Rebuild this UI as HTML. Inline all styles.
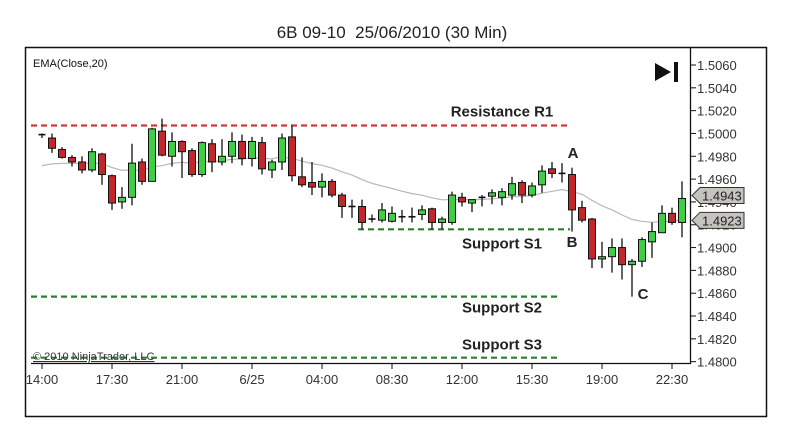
<!DOCTYPE html>
<html><head><meta charset="utf-8">
<style>
body{margin:0;background:#fff;}
svg{display:block;font-family:"Liberation Sans",Arial,sans-serif;}
</style></head>
<body>
<svg id="chart" width="790" height="428" viewBox="0 0 790 428">
<text x="392" y="38" font-size="17" text-anchor="middle" fill="#222">6B 09-10&#160; 25/06/2010 (30 Min)</text>
<rect x="25.5" y="47.5" width="741" height="369" fill="none" stroke="#111" stroke-width="1.5"/>
<text x="33" y="67" font-size="11" fill="#111">EMA(Close,20)</text>
<g><polygon points="655,63 655,81 671,72" fill="#111"/><rect x="674" y="62" width="4" height="20" fill="#111"/></g>
<g id="grid"></g>
<g id="levels"></g>
<path id="ema" fill="none" stroke="#b8b8b8" stroke-width="1.2"/>
<g id="candles"></g>
<g id="axes"></g>
<text x="33" y="360" font-size="11" fill="#333" text-decoration="underline">© 2010 NinjaTrader, LLC</text>
<text x="573" y="158" font-size="15" font-weight="bold" fill="#222" text-anchor="middle">A</text>
<text x="572" y="247" font-size="15" font-weight="bold" fill="#222" text-anchor="middle">B</text>
<text x="643" y="299" font-size="15" font-weight="bold" fill="#222" text-anchor="middle">C</text>
</svg>
<script>
const opens =  [1.4999,1.4996,1.4986,1.4979,1.4975,1.4968,1.4982,1.4963,1.4940,1.4944,1.4975,1.4958,1.5002,1.4980,1.4993,1.4985,1.4964,1.4991,1.4975,1.4980,1.4993,1.4978,1.4992,1.4968,1.4975,1.4997,1.4962,1.4957,1.4953,1.4958,1.4946,1.4936,1.4936,1.4925,1.4924,1.4923,1.4927,1.4927,1.4929,1.4934,1.4922,1.4922,1.4944,1.4939,1.4944,1.4945,1.4944,1.4946,1.4957,1.4946,1.4955,1.4969,1.4965,1.4964,1.4935,1.4925,1.4890,1.4892,1.4900,1.4885,1.4888,1.4905,1.4913,1.4930,1.4922];
const highs =  [1.5000,1.5000,1.4988,1.4981,1.4980,1.4987,1.4983,1.4964,1.4953,1.4991,1.4978,1.5005,1.5013,1.5001,1.4994,1.4987,1.4993,1.4995,1.4995,1.5001,1.4999,1.4997,1.4997,1.4977,1.5000,1.5007,1.4979,1.4975,1.4965,1.4960,1.4948,1.4942,1.4942,1.4929,1.4939,1.4936,1.4933,1.4935,1.4937,1.4935,1.4927,1.4949,1.4948,1.4942,1.4946,1.4951,1.4952,1.4962,1.4959,1.4957,1.4972,1.4975,1.4974,1.4970,1.4941,1.4926,1.4905,1.4908,1.4908,1.4890,1.4909,1.4922,1.4937,1.4935,1.4958];
const lows =   [1.4996,1.4983,1.4978,1.4971,1.4965,1.4966,1.4955,1.4933,1.4934,1.4937,1.4955,1.4958,1.4980,1.4971,1.4961,1.4962,1.4962,1.4966,1.4972,1.4974,1.4972,1.4971,1.4964,1.4961,1.4968,1.4958,1.4953,1.4946,1.4944,1.4944,1.4926,1.4926,1.4916,1.4922,1.4922,1.4922,1.4922,1.4922,1.4924,1.4916,1.4916,1.4920,1.4936,1.4931,1.4936,1.4938,1.4937,1.4942,1.4939,1.4944,1.4948,1.4961,1.4957,1.4914,1.4922,1.4882,1.4882,1.4878,1.4872,1.4857,1.4883,1.4891,1.4913,1.4920,1.4909];
const closes = [1.4999,1.4987,1.4979,1.4975,1.4968,1.4984,1.4964,1.4939,1.4944,1.4974,1.4958,1.5004,1.4981,1.4993,1.4984,1.4964,1.4992,1.4975,1.4980,1.4993,1.4978,1.4993,1.4969,1.4975,1.4996,1.4963,1.4955,1.4953,1.4958,1.4946,1.4936,1.4936,1.4922,1.4925,1.4933,1.4930,1.4927,1.4927,1.4933,1.4922,1.4925,1.4946,1.4940,1.4942,1.4944,1.4948,1.4949,1.4956,1.4946,1.4954,1.4967,1.4965,1.4965,1.4933,1.4924,1.4890,1.4892,1.4900,1.4885,1.4888,1.4907,1.4914,1.4930,1.4922,1.4943];
const emaSeed = 1.4969;
const yTicks = [1.5060,1.5040,1.5020,1.5000,1.4980,1.4960,1.4940,1.4920,1.4900,1.4880,1.4860,1.4840,1.4820,1.4800];
const xTickLabels = ["14:00","17:30","21:00","6/25","04:00","08:30","12:00","15:30","19:00","22:30"];
const xTickIndex = [0,7,14,21,28,35,42,49,56,63];
const levelNames = ["Resistance R1","Support S1","Support S2","Support S3"];
const levelPrices = [1.5007,1.4916,1.4857,1.48035];
const levelStart = [0,32,0,0];
const levelEnd = [53,53,52,52];
const lastValues = [1.4943,1.4923];

const NS="http://www.w3.org/2000/svg";
function X(i){return 42+i*10;}
function Y(p){return 65+(1.5060-p)/0.0020*22.82;}
function mk(tag,attrs,parent){const e=document.createElementNS(NS,tag);for(const k in attrs)e.setAttribute(k,attrs[k]);parent.appendChild(e);return e;}
const candles=document.getElementById('candles');
const axes=document.getElementById('axes');
const levels=document.getElementById('levels');

for(let i=0;i<closes.length;i++){
  const g=mk('g',{},candles);
  
  
  const x=X(i);
  mk('line',{x1:x,x2:x,y1:Y(highs[i]),y2:Y(lows[i]),stroke:'#111','stroke-width':1.3},g);
  const o=opens[i],c=closes[i];
  if(Math.abs(o-c)<0.00005){
    mk('line',{x1:x-3.5,x2:x+3.5,y1:Y(c),y2:Y(c),stroke:'#111','stroke-width':1.6},g);
  } else {
    const up=c>o;const top=Y(Math.max(o,c)),bot=Y(Math.min(o,c));
    mk('rect',{x:x-3.5,y:top,width:7,height:Math.max(bot-top,2),fill:up?'#3fcf44':'#c3262b',stroke:'#111','stroke-width':1},g);
  }
}
let ema=emaSeed,d='';const k=2/21;
for(let i=0;i<closes.length;i++){ema=closes[i]*k+ema*(1-k);d+=(i?'L':'M')+X(i)+','+Y(ema).toFixed(1);}
document.getElementById('ema').setAttribute('d',d);

for(let j=0;j<levelNames.length;j++){
  const y=Y(levelPrices[j]);
  const ln=mk('line',{x1:j==1?X(levelStart[j])-4:31,x2:X(levelEnd[j])-2,y1:y,y2:y,stroke:j==0?'#d23a3a':'#2f7d32','stroke-width':2.2,'stroke-dasharray':'6,4'},levels);
  
  
  const ty=[y-9,y+19,y+16,y-8][j];
  const t=mk('text',{x:502,y:ty,'font-size':15,'font-weight':'bold',fill:'#222','text-anchor':'middle'},levels);
  t.textContent=levelNames[j];
  
  
}

mk('line',{x1:690.5,x2:690.5,y1:48,y2:364,stroke:'#111','stroke-width':1.3},axes);
mk('line',{x1:31,x2:691,y1:363.5,y2:363.5,stroke:'#111','stroke-width':1.3},axes);
for(let j=0;j<yTicks.length;j++){
  const y=Y(yTicks[j]);
  mk('line',{x1:690,x2:696,y1:y,y2:y,stroke:'#111'},axes);
  const t=mk('text',{x:697,y:y+5,'font-size':13,fill:'#333'},axes);
  t.textContent=yTicks[j].toFixed(4);
  
  
}
for(let j=0;j<xTickLabels.length;j++){
  const x=X(xTickIndex[j]);
  mk('line',{x1:x,x2:x,y1:363,y2:369,stroke:'#111'},axes);
  const t=mk('text',{x:x,y:384,'font-size':13,fill:'#333','text-anchor':'middle'},axes);
  t.textContent=xTickLabels[j];
  
  
}
for(let j=0;j<lastValues.length;j++){
  const y=Y(lastValues[j])-(j==0?3:1);
  const g=mk('g',{},axes);
  
  
  mk('path',{d:`M692,${y} L700,${y-8} L744,${y-8} L744,${y+8} L700,${y+8} Z`,fill:'#c4c3bd',stroke:'#333','stroke-width':1},g);
  const t=mk('text',{x:702,y:y+5,'font-size':13,fill:'#222'},g);
  t.textContent=lastValues[j].toFixed(4);
}
</script>
</body></html>
